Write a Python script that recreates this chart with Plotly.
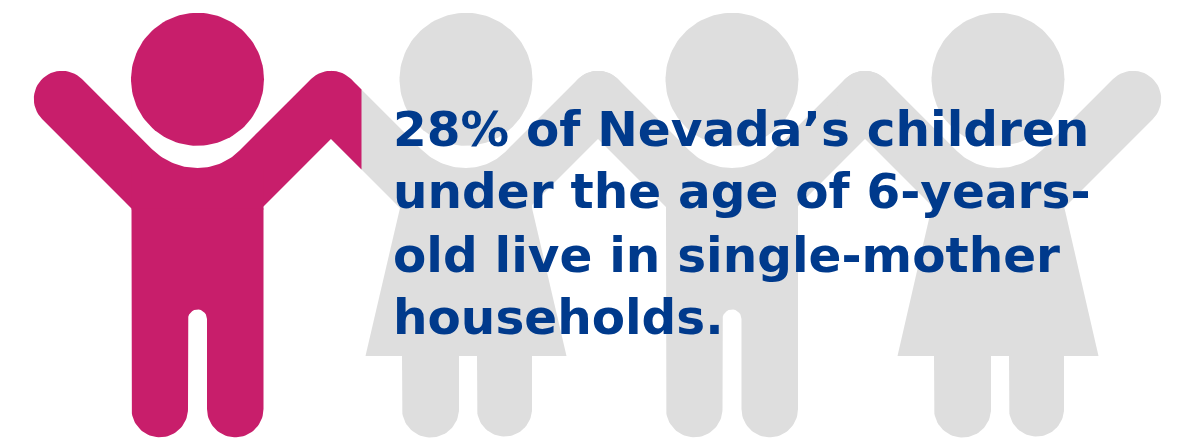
import numpy as np
import plotly.graph_objects as go

# Content
text_lines = ["28% of Nevada’s children", "under the age of 6-years-", "old live in single-mother", "households."]
text_centers = [128.5, 191, 254.5, 317]
text_left = 391
children = ["boy", "girl", "boy", "girl"]
head_x = [197.5, 466, 732, 998]
hand_x = [62, 331, 598, 865, 1133]

PINK = "#C81E6B"
GREY = "#DEDEDE"
BLUE = "#003A8C"
W, H = 1180, 438
HEAD_Y, HEAD_R = 79.3, 66.5
HAND_Y, ARM_R = 99, 28.2
NECK_Y = 168
HALF = 66
CUT_X = 361.5
BOTTOM = 437
LEG_R = 28


def arc(cx, cy, r, a0, a1, n=40):
    t = np.radians(np.linspace(a0, a1, n))
    return list(cx + r * np.cos(t)), list(cy + r * np.sin(t))


def half_upper(cx, hand):
    """Arm, neck fillet and shoulder of one side, from neck bottom round the hand to the armpit."""
    s = 1 if hand > cx else -1
    d = ARM_R * np.sqrt(0.5)
    ux, uy = hand - s * d, HAND_Y - d
    line_y_at_cx = uy + s * (ux - cx)
    gap = line_y_at_cx - NECK_Y
    R = gap / (np.sqrt(2) - 1)
    fy = NECK_Y - R
    xs, ys = [cx], [NECK_Y]
    if s > 0:
        ax, ay = arc(cx, fy, R, 90, 45, 20)
        cap_x, cap_y = arc(hand, HAND_Y, ARM_R, 225, 405, 30)
    else:
        ax, ay = arc(cx, fy, R, 90, 135, 20)
        cap_x, cap_y = arc(hand, HAND_Y, ARM_R, -45, -225, 30)
    xs += ax + cap_x
    ys += ay + cap_y
    lx, ly = hand + s * d, HAND_Y + d
    sx = cx + s * HALF
    sy = ly + (lx - sx) * s
    xs += [sx, cx]
    ys += [sy, sy]
    return xs, ys, sy


def legs(cx, kind, top_y):
    if kind == "boy":
        a, b, c, d = cx - HALF, cx - 9.5, cx + 9.5, cx + HALF
        xs = [a]; ys = [top_y]
        x1, y1 = arc((a + b) / 2, BOTTOM - LEG_R, (b - a) / 2, 180, 0)
        x2, y2 = arc((b + c) / 2, 319, (c - b) / 2, 180, 360, 14)
        x3, y3 = arc((c + d) / 2, BOTTOM - LEG_R, (d - c) / 2, 180, 0)
        xs += x1 + x2 + x3 + [d]
        ys += y1 + y2 + y3 + [top_y]
        return [(xs, ys)]
    skirt_y = 356
    flare = 100.5
    dress = ([cx - HALF, cx - flare, cx + flare, cx + HALF], [top_y, skirt_y, skirt_y, top_y])
    out = [dress]
    for a, b in ((cx - 64, cx - 7), (cx + 11, cx + 66)):
        x1, y1 = arc((a + b) / 2, BOTTOM - LEG_R, (b - a) / 2, 180, 0)
        out.append(([a] + x1 + [b], [skirt_y - 1] + y1 + [skirt_y - 1]))
    return out


fig = go.Figure()


def blob(xs, ys, color):
    xs, ys = list(xs), list(ys)
    fig.add_trace(go.Scatter(x=xs + xs[:1], y=ys + ys[:1], mode="lines", fill="toself",
                             fillcolor=color, line=dict(width=0, color=color),
                             hoverinfo="skip", showlegend=False))


def child(i, color):
    cx = head_x[i]
    hx, hy = arc(cx, HEAD_Y, HEAD_R, 0, 360, 120)
    blob(hx, hy, color)
    lx, ly, top = half_upper(cx, hand_x[i])
    blob(lx, ly, color)
    rx, ry, top_r = half_upper(cx, hand_x[i + 1])
    blob(rx, ry, color)
    blob([cx - HALF, cx + HALF, cx + HALF, cx - HALF], [NECK_Y, NECK_Y, top + 1, top + 1], color)
    for px, py in legs(cx, children[i], top):
        blob(px, py, color)


for i in range(1, 4):
    child(i, GREY)
child(0, PINK)
# the pink picture is cut off inside the next child's arm
d = ARM_R * np.sqrt(0.5)
hand = hand_x[1]
blob([hand, hand + d, CUT_X, CUT_X, hand],
     [HAND_Y - ARM_R, HAND_Y - d, HAND_Y - d + (CUT_X - hand - d), HAND_Y + ARM_R * np.sqrt(2) + (CUT_X - hand), HAND_Y + ARM_R * np.sqrt(2)],
     PINK)

for line, yc in zip(text_lines, text_centers):
    fig.add_annotation(x=text_left, y=yc, text=line, showarrow=False, xanchor="left", yanchor="middle",
                       font=dict(family="DejaVu Sans", size=48.5, color=BLUE, weight="bold"))

fig.update_layout(width=W, height=H, margin=dict(l=0, r=0, t=0, b=0),
                  paper_bgcolor="white", plot_bgcolor="white",
                  xaxis=dict(range=[0, W], visible=False, fixedrange=True),
                  yaxis=dict(range=[H, 0], visible=False, fixedrange=True))
fig.write_html("out.html", config=dict(displayModeBar=False),
               post_script="document.body.style.margin='0';document.body.style.overflow='hidden';")
